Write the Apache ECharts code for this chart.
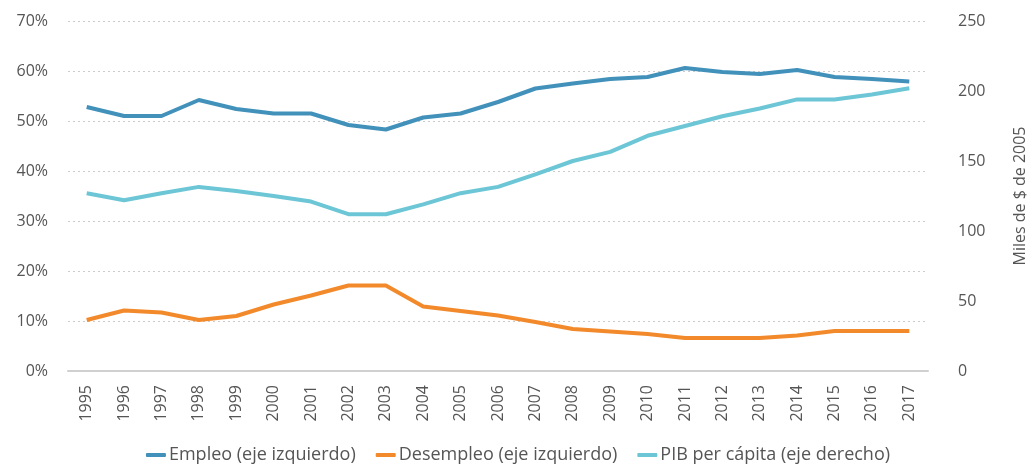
<!DOCTYPE html>
<html>
<head>
<meta charset="utf-8">
<script src="https://cdn.jsdelivr.net/npm/echarts@6/dist/echarts.min.js"></script>
<style>
html, body { margin: 0; padding: 0; background: #fff; }
#chart { width: 1036px; height: 469px; }
</style>
</head>
<body>
<div id="chart"></div>
<script>
var years = ['1995', '1996', '1997', '1998', '1999', '2000', '2001', '2002', '2003', '2004', '2005', '2006',
    '2007', '2008', '2009', '2010', '2011', '2012', '2013', '2014', '2015', '2016', '2017'];

// % (eje izquierdo)
var empleo = [52.8, 51.0, 51.0, 54.2, 52.4, 51.5, 51.5, 49.2, 48.3, 50.7, 51.5, 53.8,
    56.5, 57.5, 58.4, 58.8, 60.6, 59.8, 59.4, 60.2, 58.8, 58.4, 57.9];
var desempleo = [10.2, 12.1, 11.7, 10.2, 11.0, 13.3, 15.1, 17.1, 17.1, 12.9, 12.0, 11.1,
    9.8, 8.4, 7.9, 7.4, 6.6, 6.6, 6.6, 7.1, 8.0, 8.0, 8.0];
// miles de $ de 2005 (eje derecho)
var pib = [127, 122, 127, 131.5, 128.5, 125, 121, 112, 112, 119, 127, 131.5,
    140.5, 150, 156.5, 168, 175, 182, 187.5, 194, 194, 197.5, 202];

var colors = ['#4191bb', '#f28a2b', '#6cc6d6'];
var textColor = '#555555';
var font = '"Open Sans", "Noto Sans", sans-serif';

var myChart = echarts.init(document.getElementById('chart'));

var option = {
    color: colors,
    animation: false,
    textStyle: { fontFamily: font },
    grid: {
        left: 68,
        right: 102,
        top: 21,
        bottom: 98
    },
    legend: {
        bottom: 0,
        left: 'center',
        itemWidth: 20,
        itemHeight: 4,
        itemGap: 20,
        icon: 'roundRect',
        textStyle: { fontSize: 18, color: textColor, fontFamily: font, padding: [0, 0, 0, -2] },
        data: ['Empleo (eje izquierdo)', 'Desempleo (eje izquierdo)', 'PIB per cápita (eje derecho)']
    },
    xAxis: {
        type: 'category',
        data: years,
        boundaryGap: true,
        axisLine: { lineStyle: { color: '#d0d0d0', width: 2 } },
        axisTick: { show: false },
        axisLabel: {
            rotate: 90,
            interval: 0,
            margin: 14,
            fontSize: 16,
            color: textColor
        }
    },
    yAxis: [
        {
            type: 'value',
            min: 0,
            max: 70,
            interval: 10,
            axisLine: { show: false },
            axisTick: { show: false },
            splitLine: { lineStyle: { color: '#cccccc', type: [2, 3] } },
            axisLabel: {
                formatter: '{value}%',
                fontSize: 16,
                color: textColor,
                margin: 20
            }
        },
        {
            type: 'value',
            min: 0,
            max: 250,
            interval: 50,
            position: 'right',
            axisLine: { show: false },
            axisTick: { show: false },
            splitLine: { show: false },
            axisLabel: {
                fontSize: 16,
                color: textColor,
                margin: 30
            },
            name: 'Miles de $ de 2005',
            nameLocation: 'middle',
            nameGap: 84,
            nameRotate: 90,
            nameTextStyle: { fontSize: 16, color: textColor }
        }
    ],
    series: [
        {
            name: 'Empleo (eje izquierdo)',
            type: 'line',
            yAxisIndex: 0,
            symbol: 'none',
            lineStyle: { width: 4 },
            data: empleo
        },
        {
            name: 'Desempleo (eje izquierdo)',
            type: 'line',
            yAxisIndex: 0,
            symbol: 'none',
            lineStyle: { width: 4 },
            data: desempleo
        },
        {
            name: 'PIB per cápita (eje derecho)',
            type: 'line',
            yAxisIndex: 1,
            symbol: 'none',
            lineStyle: { width: 4 },
            data: pib
        }
    ]
};

myChart.setOption(option);
</script>
</body>
</html>
